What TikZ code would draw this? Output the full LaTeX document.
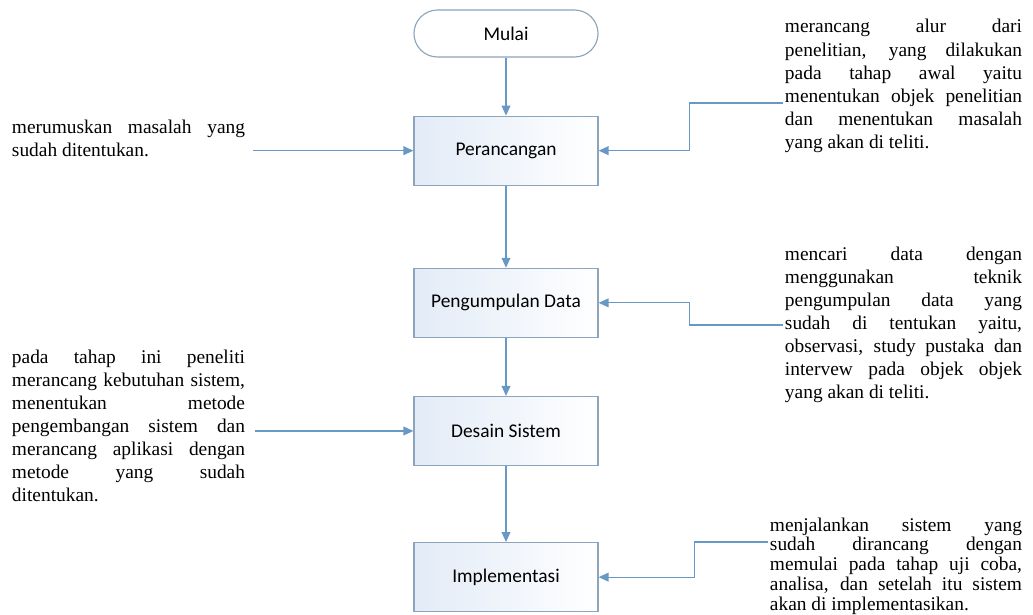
\documentclass[tikz,border=0pt]{standalone}
\usepackage{fontspec}
\setmainfont{Liberation Serif}
\newfontfamily\boxfont{Carlito}
\usetikzlibrary{arrows.meta,positioning}

\definecolor{lineblue}{RGB}{104,152,196}
\definecolor{edgeblue}{RGB}{140,164,188}
\definecolor{fillblue}{RGB}{226,235,247}

\hyphenpenalty=10000

\begin{document}
\begin{tikzpicture}[
  x=0.025cm, y=-0.025cm,
  >=Stealth,
  process/.style={
    rectangle,
    draw=edgeblue,
    line width=0.8pt,
    left color=fillblue,
    right color=white,
    minimum width=4.6cm,
    minimum height=1.725cm,
    font=\boxfont\fontsize{13.8}{16}\selectfont
  },
  terminal/.style={
    rectangle,
    rounded corners=0.5875cm,
    draw=edgeblue,
    line width=0.8pt,
    fill=white,
    minimum width=4.6cm,
    minimum height=1.175cm,
    font=\boxfont\fontsize{13.8}{16}\selectfont
  },
  note/.style={
    inner sep=0pt,
    align=justify,
    font=\fontsize{13.8}{16.4}\selectfont
  },
  flow/.style={
    draw=lineblue,
    line width=0.9pt,
    -{Triangle[length=0.25cm,width=0.22cm]}
  }
]
\useasboundingbox (0,0) rectangle (1033,614);

\node[terminal] (mulai) at (506,33.5) {Mulai};
\node[process, below=1.45cm of mulai] (per) {Perancangan};
\node[process, below=2.05cm of per] (peng) {Pengumpulan Data};
\node[process, below=1.45cm of peng] (des) {Desain Sistem};
\node[process, below=1.9cm of des] (impl) {Implementasi};

% Left notes
\node[note, text width=5.825cm] (lt1) at (128.5,138) {merumuskan masalah yang\linebreak
sudah ditentukan.};

\node[note, text width=5.825cm] (lt2) at (128.5,426) {pada tahap ini peneliti\linebreak
merancang kebutuhan sistem,\linebreak
menentukan metode\linebreak
pengembangan sistem dan\linebreak
merancang aplikasi dengan\linebreak
metode yang sudah\linebreak
ditentukan.};

% Right notes
\node[note, text width=5.925cm] (rt1) at (903.5,86) {merancang alur dari\linebreak
penelitian, yang dilakukan\linebreak
pada tahap awal yaitu\linebreak
menentukan objek penelitian\linebreak
dan menentukan masalah\linebreak
yang akan di teliti.};

\node[note, text width=5.925cm] (rt2) at (903.5,325) {mencari data dengan\linebreak
menggunakan teknik\linebreak
pengumpulan data yang\linebreak
sudah di tentukan yaitu,\linebreak
observasi, study pustaka dan\linebreak
intervew pada objek objek\linebreak
yang akan di teliti.};

\node[note, text width=6.3cm, font=\fontsize{13.8}{14}\selectfont] (rt3) at (896,566) {menjalankan sistem yang\linebreak
sudah dirancang dengan\linebreak
memulai pada tahap uji coba,\linebreak
analisa, dan setelah itu sistem\linebreak
akan di implementasikan.};

% Arrows
\draw[flow] (mulai) -- (per);
\draw[flow] (per) -- (peng);
\draw[flow] (peng) -- (des);
\draw[flow] (des) -- (impl);

\draw[flow] ([xshift=0.2cm]lt1.east |- per.west) -- (per.west);
\draw[flow] ([xshift=0.25cm]lt2.east |- des.west) -- (des.west);

\draw[flow] ([xshift=-0.05cm,yshift=-0.425cm]rt1.west) -- ++(-93,0) |- (per.east);
\draw[flow] ([xshift=-0.05cm]rt2.west) -- ++(-93,0) |- (peng.east);
\draw[flow] ([xshift=-0.05cm]rt3.west |- impl.north) -- ++(-73,0) |- (impl.east);

\end{tikzpicture}
\end{document}
